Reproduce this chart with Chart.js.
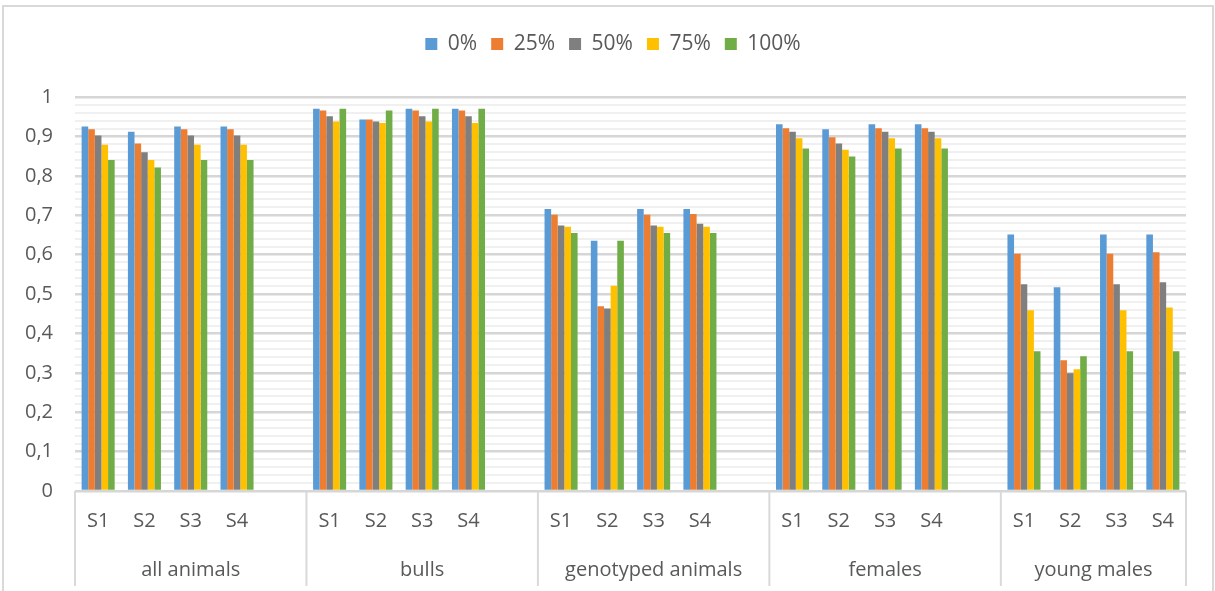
<!DOCTYPE html>
<html>
<head>
<meta charset="utf-8">
<script src="https://cdn.jsdelivr.net/npm/chart.js@4/dist/chart.umd.min.js"></script>
<style>
  html, body { margin: 0; padding: 0; background: #ffffff; }
  #wrap { position: relative; width: 1215px; height: 591px; }
</style>
</head>
<body>
<div id="wrap"><canvas id="chart" width="1215" height="591"></canvas></div>
<script>
// Scenario labels per group; an empty slot separates consecutive groups
const scenarios = ['S1', 'S2', 'S3', 'S4'];
const groups = ['all animals', 'bulls', 'genotyped animals', 'females', 'young males'];
const seriesNames = ['0%', '25%', '50%', '75%', '100%'];
const seriesColors = ['#5B9BD5', '#ED7D31', '#7F7F7F', '#FFC000', '#70AD47'];

// Values per group, rows = S1..S4, columns = 0%, 25%, 50%, 75%, 100%
const allAnimals = [
  [0.925, 0.918, 0.902, 0.879, 0.840],
  [0.912, 0.882, 0.860, 0.840, 0.821],
  [0.925, 0.918, 0.902, 0.879, 0.840],
  [0.925, 0.918, 0.902, 0.879, 0.840]
];
const bulls = [
  [0.970, 0.966, 0.951, 0.938, 0.970],
  [0.943, 0.943, 0.938, 0.934, 0.966],
  [0.970, 0.966, 0.951, 0.938, 0.970],
  [0.970, 0.966, 0.951, 0.934, 0.970]
];
const genotypedAnimals = [
  [0.716, 0.701, 0.674, 0.671, 0.655],
  [0.635, 0.469, 0.463, 0.521, 0.635],
  [0.716, 0.701, 0.674, 0.671, 0.655],
  [0.716, 0.703, 0.678, 0.671, 0.655]
];
const females = [
  [0.931, 0.921, 0.912, 0.895, 0.869],
  [0.918, 0.898, 0.882, 0.866, 0.849],
  [0.931, 0.921, 0.912, 0.895, 0.869],
  [0.931, 0.921, 0.912, 0.895, 0.869]
];
const youngMales = [
  [0.651, 0.602, 0.525, 0.459, 0.355],
  [0.517, 0.332, 0.299, 0.309, 0.342],
  [0.651, 0.602, 0.525, 0.459, 0.355],
  [0.651, 0.606, 0.530, 0.466, 0.355]
];
const groupValues = [allAnimals, bulls, genotypedAnimals, females, youngMales];

const FONT = "'Open Sans', 'DejaVu Sans', sans-serif";
const TEXT = '#595959';

// Build the flat category list: S1..S4 per group plus a spacer slot between groups
const labels = [];
const slotGroup = [];
groups.forEach((g, gi) => {
  scenarios.forEach(s => { labels.push(s); slotGroup.push(gi); });
  if (gi < groups.length - 1) { labels.push(''); slotGroup.push(gi); }
});

const datasets = seriesNames.map((name, si) => {
  const data = [];
  groupValues.forEach((rows, gi) => {
    rows.forEach(r => data.push(r[si]));
    if (gi < groups.length - 1) data.push(null);
  });
  return {
    label: name,
    data,
    backgroundColor: seriesColors[si],
    borderWidth: 0,
    categoryPercentage: 0.714,
    barPercentage: 1.0
  };
});

// Frame around the whole chart and white background
const framePlugin = {
  id: 'frame',
  beforeDraw(chart) {
    const ctx = chart.ctx;
    ctx.save();
    ctx.fillStyle = '#ffffff';
    ctx.fillRect(0, 0, chart.width, chart.height);
    ctx.strokeStyle = '#D9D9D9';
    ctx.lineWidth = 2;
    ctx.strokeRect(3, 6, chart.width - 5, chart.height + 10);
    ctx.restore();
  }
};

// Give the legend a fixed block height so the plot starts lower,
// and centre its row over the plot region rather than the full canvas
const legendSpacer = {
  id: 'legendSpacer',
  beforeUpdate(chart) {
    const lg = chart.legend;
    if (lg && !lg._spaced) {
      const fit = lg.fit;
      lg.fit = function () { fit.call(this); this.height = 77.5; };
      lg._spaced = true;
    }
  },
  afterLayout(chart) {
    const lg = chart.legend;
    if (lg) {
      lg.left = 40;
      lg.width = lg.right - lg.left;
    }
  }
};

// Second category row: group names with separators between groups
const groupAxis = {
  id: 'groupAxis',
  afterDraw(chart) {
    const x = chart.scales.x;
    const n = labels.length;
    const w = (x.right - x.left) / n;
    const top = chart.chartArea.bottom;
    const ctx = chart.ctx;
    ctx.save();
    ctx.strokeStyle = '#D9D9D9';
    ctx.lineWidth = 2;
    const bounds = [x.left];
    groups.forEach((g, gi) => {
      let last = -1;
      slotGroup.forEach((sg, i) => { if (sg === gi) last = i; });
      bounds.push(x.getPixelForValue(last) + w / 2);
    });
    bounds.forEach(bx => {
      ctx.beginPath();
      ctx.moveTo(bx, top);
      ctx.lineTo(bx, chart.height - 5);
      ctx.stroke();
    });
    ctx.fillStyle = TEXT;
    ctx.font = '20px ' + FONT;
    ctx.textAlign = 'center';
    ctx.textBaseline = 'middle';
    groups.forEach((g, gi) => {
      ctx.fillText(g, (bounds[gi] + bounds[gi + 1]) / 2, top + 79);
    });
    ctx.restore();
  }
};

const isMajor = v => Math.round(v * 100) % 10 === 0;

new Chart(document.getElementById('chart'), {
  type: 'bar',
  data: { labels, datasets },
  plugins: [framePlugin, legendSpacer, groupAxis],
  options: {
    responsive: false,
    animation: false,
    layout: { padding: { top: 19.5, right: 29, left: 0, bottom: 0 } },
    plugins: {
      legend: {
        position: 'top',
        labels: {
          boxWidth: 12,
          boxHeight: 12,
          padding: 14,
          color: TEXT,
          font: { family: FONT, size: 21 }
        }
      },
      tooltip: { enabled: false }
    },
    scales: {
      x: {
        grid: { display: false, drawTicks: false },
        border: { display: false },
        ticks: {
          autoSkip: false,
          maxRotation: 0,
          padding: 18,
          color: TEXT,
          font: { family: FONT, size: 20 }
        },
        afterFit(scale) { scale.height = 100; }
      },
      y: {
        min: 0,
        max: 1,
        border: { display: false },
        grid: {
          drawTicks: false,
          color: ctx => isMajor(ctx.tick.value) ? '#D6D6D6' : '#F0F0F0',
          lineWidth: ctx => isMajor(ctx.tick.value) ? 2.5 : 2
        },
        ticks: {
          stepSize: 0.02,
          autoSkip: false,
          padding: 22,
          color: TEXT,
          font: { family: FONT, size: 20 },
          callback(v) {
            if (!isMajor(v)) return '';
            const r = Math.round(v * 10) / 10;
            return (r === 0 || r === 1) ? String(r) : r.toFixed(1).replace('.', ',');
          }
        },
        afterFit(scale) { scale.width = 75; }
      }
    }
  }
});
</script>
</body>
</html>
